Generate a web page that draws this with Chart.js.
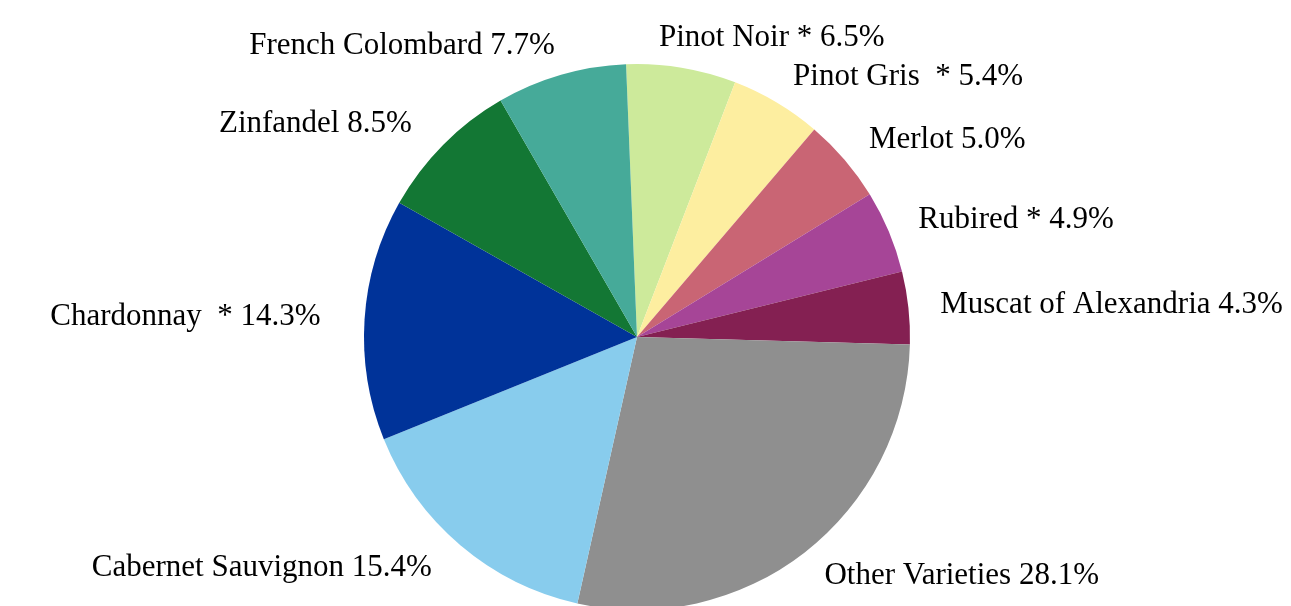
<!DOCTYPE html>
<html>
<head>
<meta charset="utf-8">
<script src="https://cdn.jsdelivr.net/npm/chart.js@4"></script>
<style>
  html, body { margin: 0; padding: 0; background: #fff; overflow: hidden; }
  #wrap { width: 1291px; height: 620px; }
</style>
</head>
<body>
<div id="wrap"><canvas id="pie" width="1291" height="620"></canvas></div>
<script>
// varieties, clockwise from the top
const varieties = ['Pinot Noir *', 'Pinot Gris  *', 'Merlot', 'Rubired *', 'Muscat of Alexandria',
	'Other Varieties', 'Cabernet Sauvignon', 'Chardonnay  *', 'Zinfandel', 'French Colombard'];
const shares = [6.5, 5.4, 5.0, 4.9, 4.3, 28.1, 15.4, 14.3, 8.5, 7.7];
const colors = ['#cdea9b', '#fdeea0', '#c96574', '#a64597', '#842052',
	'#8f8f8f', '#88cced', '#003399', '#137734', '#46aa99'];

// labels outside the pie, left / right aligned depending on side
const outsideLabels = {
	id: 'outsideLabels',
	afterDraw(chart) {
		const ctx = chart.ctx;
		const meta = chart.getDatasetMeta(0);
		ctx.save();
		ctx.font = '31px "Liberation Serif", "Times New Roman", serif';
		ctx.fillStyle = '#000';
		ctx.textBaseline = 'middle';
		meta.data.forEach((arc, i) => {
			const p = arc.getProps(['x', 'y', 'startAngle', 'endAngle', 'outerRadius'], true);
			const mid = (p.startAngle + p.endAngle) / 2;
			const dx = Math.cos(mid), dy = Math.sin(mid);
			// left side labels sit a little further out
			let tx = p.x + dx * (p.outerRadius + (dx < 0 ? 44 : 32));
			const ty = p.y + dy * (p.outerRadius + 30);
			const txt = varieties[i] + ' ' + shares[i].toFixed(1) + '%';
			const w = ctx.measureText(txt).width;
			// near the top the text slides back over the pie a bit
			if (Math.abs(dx) < 0.3) tx -= Math.sign(dx) * w * (0.3 - Math.abs(dx)) * 0.9;
			ctx.textAlign = dx >= 0 ? 'left' : 'right';
			ctx.fillText(txt, tx, ty);
		});
		ctx.restore();
	}
};

new Chart(document.getElementById('pie'), {
	type: 'pie',
	data: {
		labels: varieties,
		datasets: [{
			data: shares,
			backgroundColor: colors,
			borderWidth: 0,
			hoverOffset: 0,
			offset: 0
		}]
	},
	options: {
		responsive: false,
		animation: false,
		events: [],
		rotation: -2.3,
		layout: { padding: { top: 64, bottom: 10, left: 0, right: 17 } },
		plugins: {
			legend: { display: false },
			tooltip: { enabled: false }
		}
	},
	plugins: [outsideLabels]
});
</script>
</body>
</html>
